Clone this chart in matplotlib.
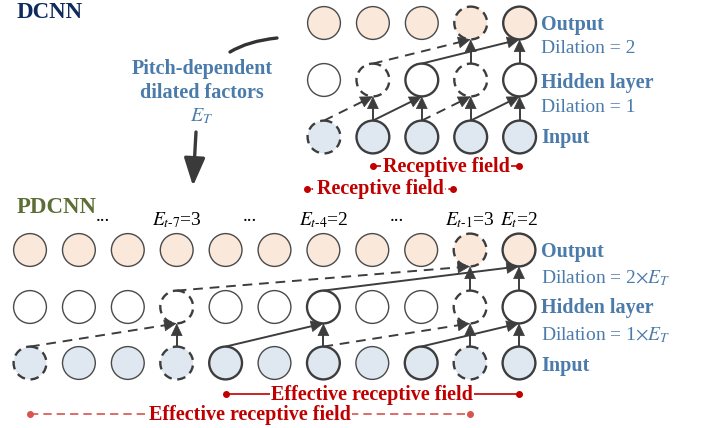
import numpy as np
import matplotlib
matplotlib.use("Agg")
import matplotlib.pyplot as plt
from matplotlib.patches import Circle, PathPatch
from matplotlib.path import Path

plt.rcParams['font.family'] = ['Liberation Serif', 'DejaVu Serif']
plt.rcParams['mathtext.fontset'] = 'stix'

# ---- data -------------------------------------------------------------
# node styles per layer (input, hidden, output): 'n' normal, 's' solid/bold, 'd' dashed
dcnn_nodes = ["dssss", "ndsds", "nnnds"]
pdcnn_nodes = ["dnndsnsnsds", "nnndnnsnnds", "nnnnnnnnnds"]

# edges: (layer of source, source column, target column)
dcnn_solid = [(0, 1, 2), (0, 2, 2), (0, 3, 4), (0, 4, 4), (1, 2, 4), (1, 4, 4),
              (0, 1, 1), (0, 3, 3), (1, 3, 3)]
dcnn_dashed = [(0, 0, 1), (0, 2, 3), (1, 1, 3)]
pdcnn_solid = [(0, 4, 6), (0, 6, 6), (0, 8, 10), (0, 10, 10), (1, 6, 10), (1, 10, 10),
               (0, 3, 3), (0, 9, 9), (1, 9, 9)]
pdcnn_dashed = [(0, 0, 3), (0, 6, 9), (1, 3, 9)]

e_labels = ["...", r"$E_{t\text{-}7}$=3", "...", r"$E_{t\text{-}4}$=2", "...",
            r"$E_{t\text{-}1}$=3", r"$E_t$=2"]
e_label_cols = [1.5, 3, 4.5, 6, 7.5, 9, 10]

dcnn_side = ["Output", "Dilation = 2", "Hidden layer", "Dilation = 1", "Input"]
pdcnn_side = ["Output", r"Dilation = 2$\times E_T$", "Hidden layer",
              r"Dilation = 1$\times E_T$", "Input"]

# ---- style ------------------------------------------------------------
R = 16.4
FILL = ["#dfe8f1", "white", "#fae8db"]
EDGE = "#3d3d3d"
BLUE = "#4a7bab"
RED = "#c00000"
LRED = "#d9534f"

fig = plt.figure(figsize=(7.03, 4.28), dpi=100)
ax = fig.add_axes([0, 0, 1, 1])
ax.set_xlim(0, 703)
ax.set_ylim(428, 0)
ax.axis("off")


def draw_net(nodes, solid, dashed, x0, dx, ys):
    for layer, row in enumerate(nodes):
        for c, s in enumerate(row):
            x = x0 + c * dx
            if s == "n":
                p = Circle((x, ys[layer]), R, fc=FILL[layer], ec="#4a4a4a", lw=1.0, zorder=2)
            elif s == "s":
                p = Circle((x, ys[layer]), R, fc=FILL[layer], ec=EDGE, lw=1.7, zorder=2)
            else:
                p = Circle((x, ys[layer]), R, fc=FILL[layer], ec=EDGE, lw=1.7,
                           ls=(0, (3.6, 2.4)), zorder=2)
            ax.add_patch(p)
    for edges, ls in ((solid, "-"), (dashed, (0, (5, 3.5)))):
        for layer, a, b in edges:
            xs, ys0 = x0 + a * dx, ys[layer] - R
            xt, yt = x0 + b * dx, ys[layer + 1] + R
            d = np.array([xt - xs, yt - ys0])
            d = d / np.hypot(*d)
            ax.plot([xs, xt - 7 * d[0]], [ys0, yt - 7 * d[1]], color=EDGE, lw=1.4,
                    ls=ls, zorder=3, solid_capstyle="butt")
            ax.annotate("", xy=(xt, yt), xytext=(xt - 12 * d[0], yt - 12 * d[1]),
                        arrowprops=dict(arrowstyle="-|>,head_length=0.55,head_width=0.26",
                                        mutation_scale=15, color=EDGE, lw=0.5,
                                        shrinkA=0, shrinkB=0), zorder=4)


draw_net(dcnn_nodes, dcnn_solid, dcnn_dashed, 324, 48.9, [137, 80, 23])
draw_net(pdcnn_nodes, pdcnn_solid, pdcnn_dashed, 30, 48.9, [363, 307, 250])

# side labels
for txt, y, bold in zip(dcnn_side, [30, 53, 88, 112, 143], [1, 0, 1, 0, 1]):
    ax.text(541, y, txt, color=BLUE, fontsize=14.5 if bold else 14,
            fontweight="bold" if bold else "normal", va="baseline", ha="left")
for txt, y, bold in zip(pdcnn_side, [257, 283, 313, 340, 371], [1, 0, 1, 0, 1]):
    ax.text(541, y, txt, color=BLUE, fontsize=14.5 if bold else 14,
            fontweight="bold" if bold else "normal", va="baseline", ha="left")

# E labels
for txt, c in zip(e_labels, e_label_cols):
    ax.text(30 + c * 48.9, 225 if txt != "..." else 221, txt, fontsize=14,
            ha="center", va="baseline", color="black")

# titles
ax.text(17, 18, "DCNN", fontsize=16.5, fontweight="bold", color="#0f2a5c", va="baseline")
ax.text(17, 213, "PDCNN", fontsize=16.5, fontweight="bold", color="#5b6e35", va="baseline")

# pitch-dependent annotation
ax.text(202, 74, "Pitch-dependent", fontsize=14.5, fontweight="bold", color=BLUE,
        ha="center", va="baseline")
ax.text(202, 98, "dilated factors", fontsize=14.5, fontweight="bold", color=BLUE,
        ha="center", va="baseline")
ax.text(202, 121, r"$E_T$", fontsize=14.5, color=BLUE, ha="center", va="baseline")

curve = Path([(230, 52), (248, 41), (277, 38)], [Path.MOVETO, Path.CURVE3, Path.CURVE3])
ax.add_patch(PathPatch(curve, fc="none", ec="#333333", lw=2.4, capstyle="round"))
ax.annotate("", xy=(193, 186), xytext=(196, 132),
            arrowprops=dict(arrowstyle="-|>,head_length=0.85,head_width=0.32",
                            mutation_scale=20, color="#3a3a3a", lw=2.4,
                            shrinkA=0, shrinkB=0))


# receptive field markers
def field(x1, x2, y, xt, yt, txt, color, ls):
    ax.plot([x1, x2], [y, y], color=color, lw=1.2, ls=ls, zorder=3)
    ax.plot([x1, x2], [y, y], "o", color=color, ms=4, zorder=4)
    ax.text(xt, yt, txt, fontsize=14.5, fontweight="bold", color=RED, ha="center",
            va="baseline", zorder=5,
            bbox=dict(fc="white", ec="none", pad=1.0))


field(373, 519, 166, 446, 172, "Receptive field", RED, "-")
field(307, 453, 189, 380, 194, "Receptive field", RED, ":")
field(226, 519, 394, 372, 400, "Effective receptive field", RED, "-")
field(30, 470, 414, 250, 420, "Effective receptive field", LRED, (0, (5, 3)))

fig.savefig("out.png", dpi=100)
